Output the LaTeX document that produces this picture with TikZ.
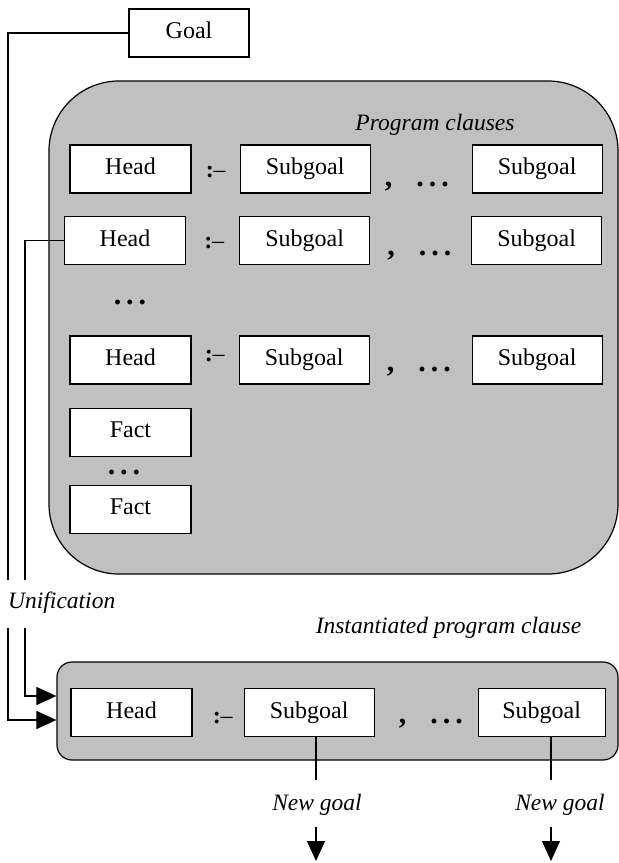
\documentclass[tikz,border=0pt]{standalone}
\usepackage{fontspec}
\setmainfont{Liberation Serif}
\usetikzlibrary{arrows.meta, positioning}
\definecolor{panelgray}{RGB}{192,192,192}
\newcommand{\threedots}{{\fontsize{30}{30}\selectfont\bfseries.\kern5pt.\kern5pt.}}
\newcommand{\andmore}{{\fontsize{30}{30}\selectfont\bfseries,}\hspace{24pt}\threedots}

\begin{document}
\begin{tikzpicture}[
    x=1pt, y=-1pt,
    box/.style = {draw, fill=white, line width=1.1pt, minimum width=121pt, minimum height=48pt, text height=16pt, text depth=5pt},
    sbox/.style = {box, minimum width=130pt},
    panel/.style = {draw, fill=panelgray, line width=1.2pt},
    sym/.style = {inner sep=0pt},
    lbl/.style = {font=\fontsize{23.5}{27}\selectfont\itshape},
    line/.style = {line width=1.1pt},
    arrow/.style = {line, -{Triangle[length=20pt, width=18pt]}},
    every node/.style={font=\fontsize{24}{28}\selectfont}
  ]
  \useasboundingbox (0,0) rectangle (619,863);

  % Goal
  \node[box, minimum width=120pt] (goal) at (189,33) {Goal};

  % Program clauses
  \node[panel, rounded corners=70pt, minimum width=569pt, minimum height=493pt] (prog) at (333.5,327.5) {};
  \node[lbl] (progtitle) at (435,125) {Program clauses};

  % Clause 1
  \node[box] (h1) at (130.5,169) {Head};
  \node[sym, right=14pt of h1, yshift=-3pt] (if1) {\textbf{:}–};
  \node[sbox, right=48pt of h1] (s1a) {Subgoal};
  \node[sym, right=14pt of s1a, anchor=base west, yshift=-17pt] (and1) {\andmore};
  \node[sbox, right=101pt of s1a] (s1b) {Subgoal};

  % Clause 2
  \node[box] (h2) at (125,240.5) {Head};
  \node[sym, right=18pt of h2, yshift=-3pt] (if2) {\textbf{:}–};
  \node[sbox, right=53pt of h2] (s2a) {Subgoal};
  \node[sym, right=17pt of s2a, anchor=base west, yshift=-15pt] (and2) {\andmore};
  \node[sbox, right=101pt of s2a] (s2b) {Subgoal};

  \node (more) at (130,302) {\threedots};

  % Clause 3
  \node[box] (h3) at (130.5,360) {Head};
  \node[sym, right=13pt of h3, yshift=4pt] (if3) {\textbf{:}–};
  \node[sbox, right=47pt of h3] (s3a) {Subgoal};
  \node[sym, right=17pt of s3a, anchor=base west, yshift=-11pt] (and3) {\andmore};
  \node[sbox, right=102pt of s3a] (s3b) {Subgoal};

  % Facts
  \node[box, below=23pt of h3] (f1) {Fact};
  \node (fdots) at (124,472) {\threedots};
  \node[box, below=28pt of f1] (f2) {Fact};

  \node[lbl, anchor=west, inner sep=0pt] (unif) at (8,603) {Unification};

  % Instantiated clause
  \node[panel, rounded corners=15pt, minimum width=561pt, minimum height=98pt] (inst) at (337.5,711) {};
  \node[lbl] (insttitle) at (448.5,628) {Instantiated program clause};
  \node[box] (bh) at (131.5,712.5) {Head};
  \node[sym, right=20pt of bh, yshift=-6pt] (bif) {\textbf{:}–};
  \node[sbox, right=51pt of bh] (bs1) {Subgoal};
  \node[sym, right=24pt of bs1, anchor=base west, yshift=-11pt] (band) {\andmore};
  \node[sbox, minimum width=127pt, right=103pt of bs1] (bs2) {Subgoal};

  % New goals
  \node[lbl] (ng1) at (317,805) {New goal};
  \node[lbl] (ng2) at (560,805) {New goal};

  % Unification lines
  \coordinate (outA) at (8,580);
  \coordinate (outB) at (8,628);
  \coordinate (inA) at (25,580);
  \coordinate (inB) at (25,628);
  \draw[line] (goal.west) -| (outA);
  \draw[line] (h2.west) -| (inA);
  \draw[arrow] (inB) |- ([yshift=15pt]inst.west);
  \draw[arrow] (outB) |- ([yshift=-9pt]inst.west);

  % Subgoals to new goals
  \coordinate (g1top) at (316,780);
  \coordinate (g1bot) at (316,827);
  \coordinate (g1end) at (316,861);
  \coordinate (g2top) at (551,780);
  \coordinate (g2bot) at (551,827);
  \coordinate (g2end) at (551,861);
  \draw[line] (bs1.south -| g1top) -- (g1top);
  \draw[arrow] (g1bot) -- (g1end);
  \draw[line] (bs2.south -| g2top) -- (g2top);
  \draw[arrow] (g2bot) -- (g2end);

\end{tikzpicture}
\end{document}
